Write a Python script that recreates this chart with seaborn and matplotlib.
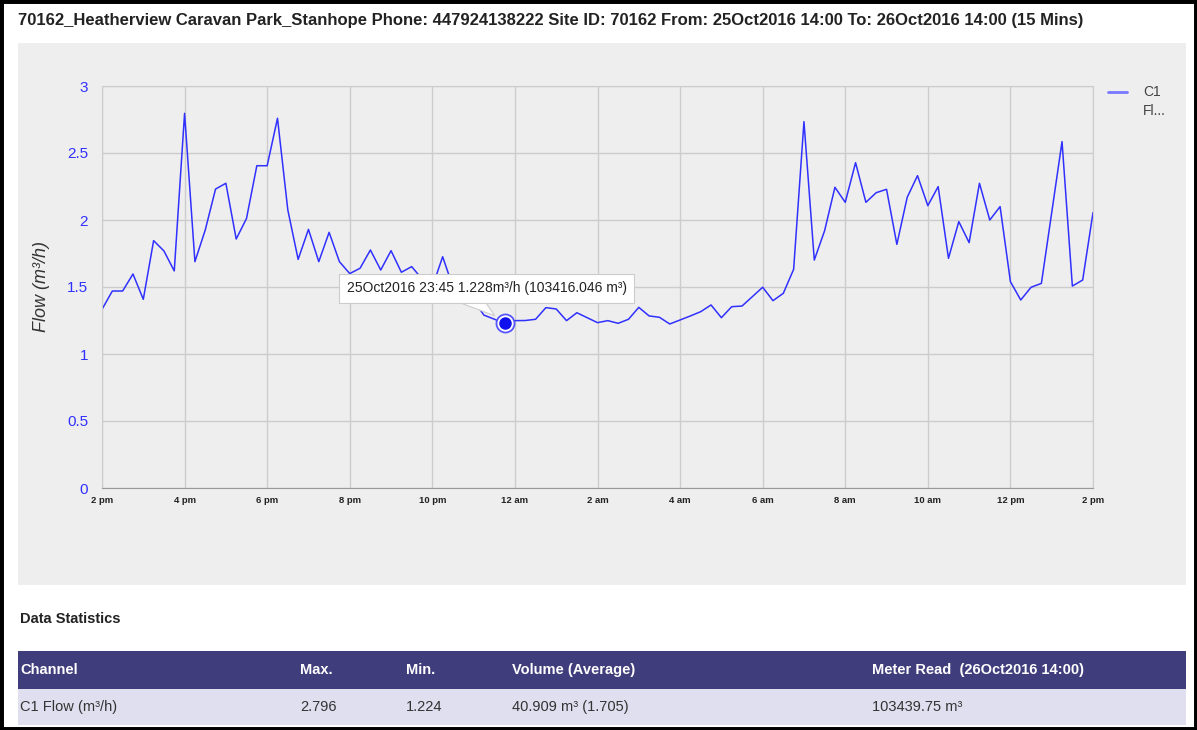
import numpy as np
import pandas as pd
import seaborn as sns
import matplotlib.pyplot as plt
from matplotlib.patches import Rectangle

# flow readings every 15 minutes, 25Oct2016 14:00 -> 26Oct2016 14:00
flow = [1.333, 1.47, 1.47, 1.597, 1.408, 1.846, 1.769, 1.62,
        2.796, 1.689, 1.925, 2.231, 2.274, 1.858, 2.012, 2.405,
        2.405, 2.759, 2.075, 1.706, 1.930, 1.689, 1.908, 1.689,
        1.60, 1.64, 1.776, 1.627, 1.771, 1.61, 1.652, 1.56,
        1.50, 1.726, 1.50, 1.44, 1.40, 1.29, 1.26, 1.228,
        1.249, 1.25, 1.259, 1.346, 1.336, 1.249, 1.308, 1.271,
        1.234, 1.249, 1.229, 1.259, 1.348, 1.284, 1.274, 1.224,
        1.254, 1.284, 1.316, 1.366, 1.271, 1.353, 1.358, 1.428,
        1.498, 1.398, 1.453, 1.632, 2.734, 1.701, 1.920, 2.244,
        2.132, 2.428, 2.132, 2.204, 2.229, 1.818, 2.169, 2.331,
        2.107, 2.249, 1.714, 1.988, 1.831, 2.274, 2.0, 2.100,
        1.540, 1.403, 1.498, 1.527, 2.055, 2.585, 1.507, 1.552,
        2.055]
times = pd.date_range("2016-10-25 14:00", "2016-10-26 14:00", freq="15min")

x_tick_labels = ["2 pm", "4 pm", "6 pm", "8 pm", "10 pm", "12 am", "2 am",
                 "4 am", "6 am", "8 am", "10 am", "12 pm", "2 pm"]
y_ticks = [0, 0.5, 1, 1.5, 2, 2.5, 3]
y_tick_labels = ["0", "0.5", "1", "1.5", "2", "2.5", "3"]

hover_index = 39
hover_text = "25Oct2016 23:45 1.228m³/h (103416.046 m³)"

title = ("70162_Heatherview Caravan Park_Stanhope Phone: 447924138222 Site ID: 70162 "
         "From: 25Oct2016 14:00 To: 26Oct2016 14:00 (15 Mins)")
stat_headers = ["Channel", "Max.", "Min.", "Volume (Average)", "Meter Read  (26Oct2016 14:00)"]
stat_row = ["C1 Flow (m³/h)", "2.796", "1.224", "40.909 m³ (1.705)", "103439.75 m³"]
stat_cols_x = [20, 300, 406, 512, 872]

LINE_BLUE = "#3030ff"
W, H = 1197, 730

sns.set_style("white")
plt.rcParams['font.family'] = ['Liberation Sans', 'DejaVu Sans']

fig = plt.figure(figsize=(W / 100, H / 100), dpi=100)

# background layer in pixel coordinates
bg = fig.add_axes([0, 0, 1, 1], zorder=0)
bg.set_xlim(0, W)
bg.set_ylim(H, 0)
bg.axis("off")
bg.add_patch(Rectangle((18, 43), 1168, 542, fc="#eeeeee", ec="none"))
bg.text(18, 21, title, fontsize=12, fontweight="bold", color="#222222", va="center")

# legend
bg.plot([1108, 1127], [92, 92], color="#7777ff", lw=2)
bg.text(1143, 92, "C1", fontsize=10, color="#444444", va="center")
bg.text(1143, 111, "Fl...", fontsize=10, color="#444444", va="center")

# statistics table
bg.text(20, 619, "Data Statistics", fontsize=10.5, fontweight="bold", color="#222222", va="center")
bg.add_patch(Rectangle((18, 651), 1168, 38, fc="#403d7c", ec="none"))
bg.add_patch(Rectangle((18, 689), 1168, 36, fc="#dfdff0", ec="none"))
for cx, head, val in zip(stat_cols_x, stat_headers, stat_row):
    bg.text(cx, 670, head, fontsize=10.5, fontweight="bold", color="white", va="center")
    bg.text(cx, 707, val, fontsize=10.5, color="#333333", va="center")

# black frame
bg.add_patch(Rectangle((0, 0), W, H, fc="none", ec="black", lw=5, clip_on=False))

# chart
ax = fig.add_axes([102 / W, 1 - 488 / H, 991 / W, 402 / H], zorder=1)
ax.set_facecolor("none")
df = pd.DataFrame({"time": times, "flow": flow})
sns.lineplot(data=df, x="time", y="flow", ax=ax, color=LINE_BLUE, lw=1.1)

ax.set_xlim(times[0], times[-1])
ax.set_ylim(0, 3)
ax.set_xticks(times[::8])
ax.set_xticklabels(x_tick_labels, fontsize=6.8, fontweight="bold", color="#222222")
ax.set_xticks(times[::4], minor=True)
ax.set_yticks(y_ticks)
ax.set_yticklabels(y_tick_labels, fontsize=11, color=LINE_BLUE)
ax.tick_params(axis="y", length=0, pad=10)
ax.tick_params(axis="x", which="both", direction="in", length=4, color="#aaaaaa", pad=6)
ax.grid(True, color="#cccccc", lw=1)
for side in ["top", "right", "left"]:
    ax.spines[side].set_color("#cccccc")
ax.spines["bottom"].set_color("#999999")
ax.set_xlabel("")
ax.set_ylabel("Flow (m³/h)", fontsize=13, fontstyle="italic", color="#333333", labelpad=12)

# hovered point and tooltip
hx, hy = times[hover_index], flow[hover_index]
ax.plot([hx], [hy], "o", ms=13, mfc="white", mec="#5555ff", mew=1.3, zorder=5)
ax.plot([hx], [hy], "o", ms=8, color="#1010ee", zorder=6)
ax.annotate(hover_text, xy=(hx, hy), xytext=(-18, 35), textcoords="offset pixels",
            ha="center", va="center", fontsize=10, color="#222222", zorder=7,
            bbox=dict(boxstyle="square,pad=0.55", fc="white", ec="#cccccc", lw=0.8),
            arrowprops=dict(arrowstyle="wedge,tail_width=1.6,shrink_factor=0.5",
                            fc="white", ec="#cccccc", lw=0.8, relpos=(0.43, 0.1),
                            patchA=None, shrinkA=0, shrinkB=9))

fig.savefig("out.png", dpi=100)
